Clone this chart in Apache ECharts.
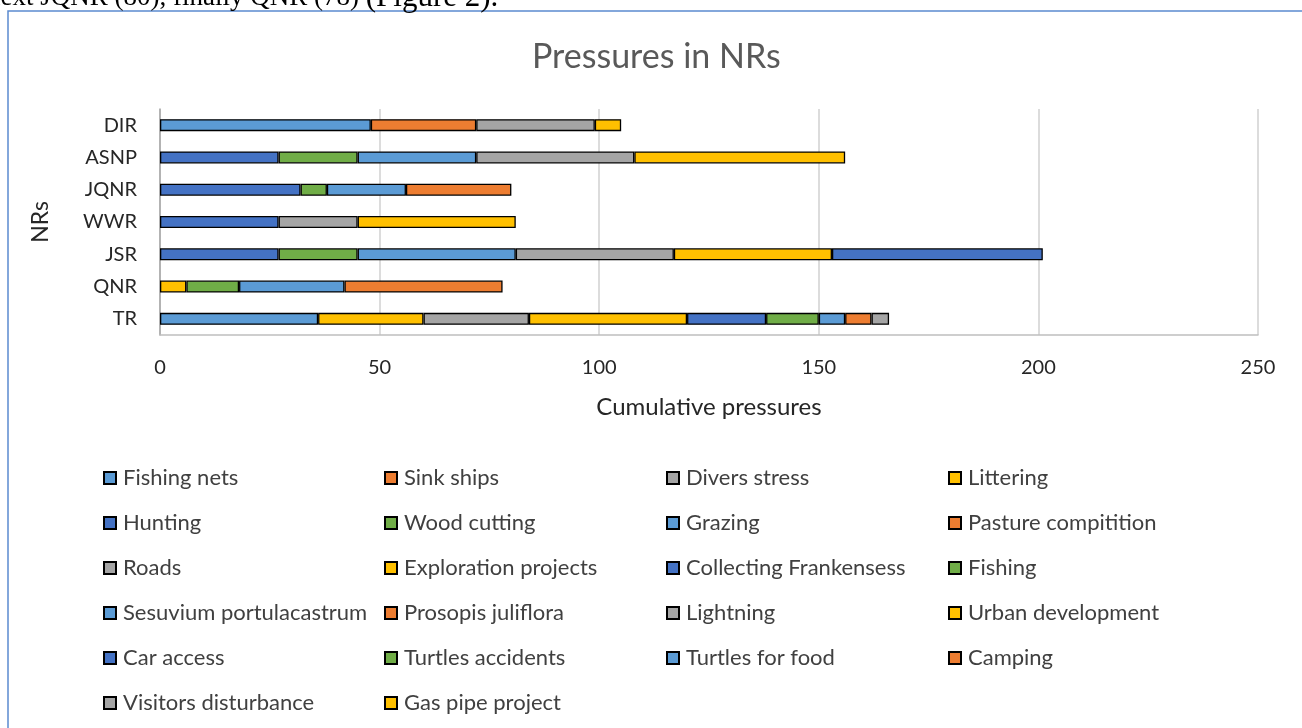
<!DOCTYPE html>
<html>
<head>
<meta charset="utf-8">
<title>Pressures in NRs</title>
<script src="https://cdn.jsdelivr.net/npm/echarts@6/dist/echarts.min.js"></script>
<style>
  html, body { margin: 0; padding: 0; background: #fff; }
  #chart { width: 1302px; height: 728px; }
</style>
</head>
<body>
<div id="chart"></div>
<script>
// categories, bottom to top
var categories = ['TR', 'QNR', 'JSR', 'WWR', 'JQNR', 'ASNP', 'DIR'];
var xTicks = [0, 50, 100, 150, 200, 250];

// one array per pressure, same order as categories
var fishingNets    = [36, null, null, null, null, null, 48];
var sinkShips      = [null, null, null, null, null, null, 24];
var diversStress   = [null, null, null, null, null, null, 27];
var littering      = [24, 6, null, null, null, null, 6];
var hunting        = [null, null, 27, 27, 32, 27, null];
var woodCutting    = [null, null, 18, null, 6, 18, null];
var grazing        = [null, null, 36, null, 18, 27, null];
var pasture        = [null, null, null, null, 24, null, null];
var roads          = [null, null, 36, 18, null, 36, null];
var exploration    = [null, null, 36, null, null, 48, null];
var frankensess    = [null, null, 48, null, null, null, null];
var fishing        = [null, 12, null, null, null, null, null];
var sesuvium       = [null, 24, null, null, null, null, null];
var prosopis       = [null, 36, null, null, null, null, null];
var lightning      = [24, null, null, null, null, null, null];
var urbanDev       = [36, null, null, null, null, null, null];
var carAccess      = [18, null, null, null, null, null, null];
var turtlesAcc     = [12, null, null, null, null, null, null];
var turtlesFood    = [6, null, null, null, null, null, null];
var camping        = [6, null, null, null, null, null, null];
var visitors       = [4, null, null, null, null, null, null];
var gasPipe        = [null, null, null, 36, null, null, null];

var pressureNames = [
  'Fishing nets', 'Sink ships', 'Divers stress', 'Littering',
  'Hunting', 'Wood cutting', 'Grazing', 'Pasture compitition',
  'Roads', 'Exploration projects', 'Collecting Frankensess', 'Fishing',
  'Sesuvium portulacastrum', 'Prosopis juliflora', 'Lightning', 'Urban development',
  'Car access', 'Turtles accidents', 'Turtles for food', 'Camping',
  'Visitors disturbance', 'Gas pipe project'
];
var pressureData = [
  fishingNets, sinkShips, diversStress, littering,
  hunting, woodCutting, grazing, pasture,
  roads, exploration, frankensess, fishing,
  sesuvium, prosopis, lightning, urbanDev,
  carAccess, turtlesAcc, turtlesFood, camping,
  visitors, gasPipe
];

var palette = ['#5B9BD5', '#ED7D31', '#A5A5A5', '#FFC000', '#4472C4', '#70AD47'];
var font = 'Lato, "Open Sans", sans-serif';

var chart = echarts.init(document.getElementById('chart'));

var series = pressureNames.map(function (name, i) {
  return {
    name: name,
    type: 'bar',
    stack: 'total',
    barWidth: 12,
    data: pressureData[i],
    itemStyle: {
      color: palette[i % palette.length],
      borderColor: '#000',
      borderWidth: 1.3
    },
    emphasis: { disabled: true }
  };
});

// legend: 4 columns
var colX = [98, 379, 661, 943];
var legends = colX.map(function (x, c) {
  var names = pressureNames.filter(function (n, i) { return i % 4 === c; });
  return {
    orient: 'vertical',
    left: x,
    top: 462,
    itemWidth: 12,
    itemHeight: 12,
    itemGap: 23,
    icon: 'rect',
    data: names,
    textStyle: { fontFamily: font, fontSize: 22, color: '#404040', lineHeight: 22, padding: [0, 0, 0, 2] },
    selectedMode: false
  };
});

var option = {
  animation: false,
  color: palette,
  title: {
    text: 'Pressures in NRs',
    left: 527,
    top: 35,
    textStyle: { fontFamily: font, fontSize: 34, fontWeight: 'normal', color: '#595959' }
  },
  legend: legends,
  grid: { left: 160, right: 44, top: 109, height: 226, containLabel: false },
  xAxis: {
    type: 'value',
    min: 0,
    max: 250,
    interval: 50,
    name: 'Cumulative pressures',
    nameLocation: 'middle',
    nameGap: 60,
    nameTextStyle: { fontFamily: font, fontSize: 24, color: '#262626' },
    axisLine: { show: true, lineStyle: { color: '#BFBFBF', width: 1.5 } },
    axisTick: { show: false },
    axisLabel: {
      margin: 23,
      fontFamily: font, fontSize: 20, color: '#262626',
      formatter: function (v) { return xTicks.indexOf(v) >= 0 ? String(v) : ''; }
    },
    splitLine: { show: true, lineStyle: { color: '#D0D0D0', width: 1.5 } }
  },
  yAxis: {
    type: 'category',
    data: categories,
    name: 'NRs',
    nameLocation: 'middle',
    nameGap: 108,
    nameRotate: 90,
    nameTextStyle: { fontFamily: font, fontSize: 23, color: '#262626' },
    axisLine: { show: true, lineStyle: { color: '#A6A6A6', width: 1.5 } },
    axisTick: { show: false },
    axisLabel: { margin: 23, fontFamily: font, fontSize: 20, color: '#262626' }
  },
  graphic: [
    {
      type: 'rect',
      shape: { x: 8, y: 11, width: 1400, height: 800 },
      style: { fill: 'none', stroke: '#5B8BD0', lineWidth: 1.5 },
      silent: true
    },
    {
      type: 'text',
      x: -13,
      y: 13,
      style: {
        text: '{a|next JQNR (80), finally QNR (78) }{b|(Figure 2).}',
        verticalAlign: 'bottom',
        rich: {
          a: { fontFamily: '"Liberation Serif", serif', fontSize: 27, fill: '#000' },
          b: { fontFamily: '"Liberation Serif", serif', fontSize: 31, fill: '#000' }
        }
      },
      silent: true
    }
  ],
  series: series
};

chart.setOption(option);
</script>
</body>
</html>
